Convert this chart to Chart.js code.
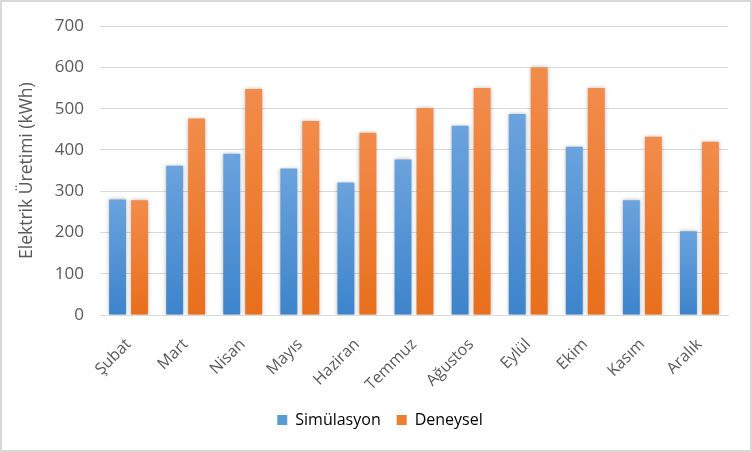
<!DOCTYPE html>
<html>
<head>
<meta charset="utf-8">
<script src="https://cdn.jsdelivr.net/npm/chart.js@4"></script>
<style>
	html, body { margin: 0; padding: 0; background: #fff; }
	#wrap { width: 752px; height: 452px; position: relative; }
</style>
</head>
<body>
<div id="wrap"><canvas id="chart" width="752" height="452"></canvas></div>
<script>
const months = ['Şubat', 'Mart', 'Nisan', 'Mayıs', 'Haziran', 'Temmuz', 'Ağustos', 'Eylül', 'Ekim', 'Kasım', 'Aralık'];
const simulasyon = [280, 362, 391, 355, 321, 377, 459, 487, 408, 278, 203];
const deneysel = [278, 476, 548, 470, 442, 502, 550, 600, 550, 432, 420];

const FONT = "'Open Sans', sans-serif";
const TEXT = '#595959';

// per-bar vertical gradient, light at top
function barGradient(top, bottom) {
	return function(ctx) {
		const chart = ctx.chart;
		const y = chart.scales.y;
		if (!y || ctx.parsed === undefined) return bottom;
		const yTop = y.getPixelForValue(ctx.parsed.y);
		const yBase = y.getPixelForValue(0);
		const g = chart.ctx.createLinearGradient(0, yTop, 0, yBase);
		g.addColorStop(0, top);
		g.addColorStop(1, bottom);
		return g;
	};
}

const shadowPlugin = {
	id: 'barShadow',
	beforeDatasetsDraw(chart) {
		const c = chart.ctx;
		c.save();
		c.shadowColor = 'rgba(0,0,0,0.28)';
		c.shadowBlur = 4;
		c.shadowOffsetX = 0;
		c.shadowOffsetY = 0;
	},
	afterDatasetsDraw(chart) {
		chart.ctx.restore();
	}
};

const borderPlugin = {
	id: 'frame',
	afterDraw(chart) {
		const c = chart.ctx;
		c.save();
		c.strokeStyle = '#d9d9d9';
		c.lineWidth = 2;
		c.strokeRect(1, 1, chart.width - 2, chart.height - 2);
		c.restore();
	}
};

new Chart(document.getElementById('chart'), {
	type: 'bar',
	data: {
		labels: months,
		datasets: [
			{
				label: 'Simülasyon',
				data: simulasyon,
				backgroundColor: barGradient('#6ba3dd', '#3d84cb'),
				categoryPercentage: 0.77,
				barPercentage: 0.77
			},
			{
				label: 'Deneysel',
				data: deneysel,
				backgroundColor: barGradient('#f28c4b', '#e86f1c'),
				categoryPercentage: 0.77,
				barPercentage: 0.77
			}
		]
	},
	options: {
		responsive: false,
		animation: false,
		devicePixelRatio: 1,
		layout: { padding: { top: 23, right: 24, bottom: 14, left: 32 } },
		plugins: {
			tooltip: { enabled: false },
			legend: {
				position: 'bottom',
				labels: {
					boxWidth: 10,
					boxHeight: 10,
					padding: 16,
					color: TEXT,
					font: { family: FONT, size: 16 },
					generateLabels(chart) {
						const cols = ['#5b9bd5', '#ed7d31'];
						return chart.data.datasets.map((ds, i) => ({
							text: ds.label,
							fillStyle: cols[i],
							strokeStyle: cols[i],
							lineWidth: 0,
							datasetIndex: i
						}));
					}
				}
			}
		},
		scales: {
			x: {
				grid: { display: false },
				border: { color: '#d9d9d9' },
				ticks: {
					color: TEXT,
					font: { family: FONT, size: 16 },
					minRotation: 45,
					maxRotation: 45,
					padding: 12
				},
				afterFit(scale) { scale.height = 81; }
			},
			y: {
				min: 0,
				max: 700,
				ticks: {
					stepSize: 100,
					color: TEXT,
					font: { family: FONT, size: 17 },
					padding: 16
				},
				grid: { color: '#d9d9d9', drawTicks: false },
				border: { display: false },
				title: {
					display: true,
					text: 'Elektrik Üretimi (kWh)',
					color: TEXT,
					font: { family: FONT, size: 17.5 },
					padding: { top: -15, bottom: 0 }
				},
				afterFit(scale) { scale.width = 68; }
			}
		}
	},
	plugins: [shadowPlugin, borderPlugin]
});
</script>
</body>
</html>
